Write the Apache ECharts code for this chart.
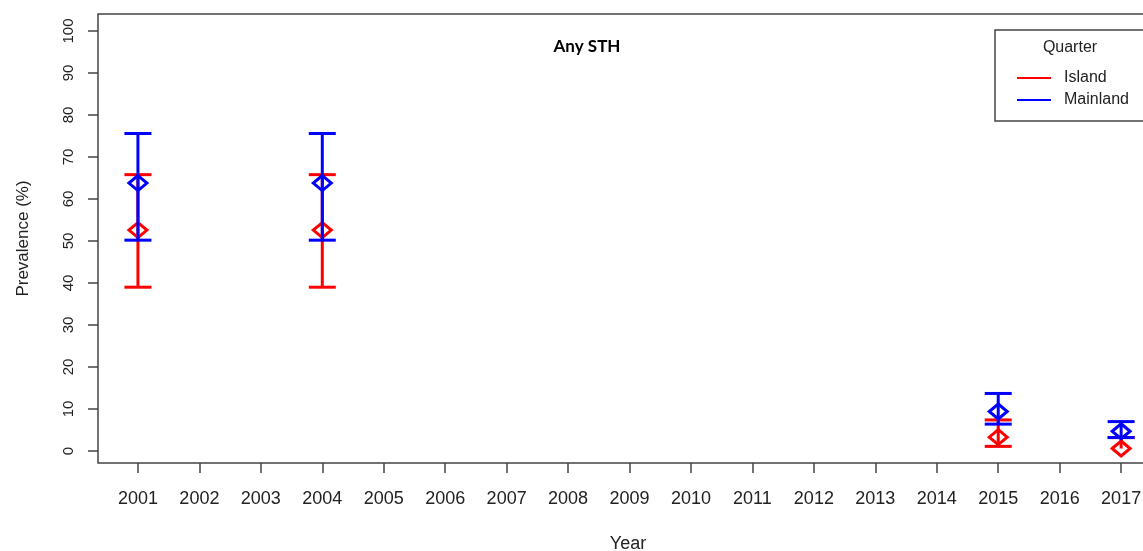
<!DOCTYPE html>
<html><head><meta charset="utf-8">
<script src="https://cdn.jsdelivr.net/npm/echarts@6/dist/echarts.min.js"></script>
<style>html,body{margin:0;padding:0;background:#fff}#c{width:1143px;height:551px}</style>
</head><body><div id="c"></div>
<script>
const years = [2001,2002,2003,2004,2005,2006,2007,2008,2009,2010,2011,2012,2013,2014,2015,2016,2017];
const yTicks = [0,10,20,30,40,50,60,70,80,90,100];
// [year, mean, lower, upper]
const islandYears = [2001, 2004, 2015, 2017];
const islandMean  = [52.6, 52.6, 3.3, 0.6];
const islandLower = [39.0, 39.0, 1.1, 0.6];
const islandUpper = [65.8, 65.8, 7.4, 3.2];
const mainYears = [2001, 2004, 2015, 2017];
const mainMean  = [63.8, 63.8, 9.4, 4.7];
const mainLower = [50.2, 50.2, 6.4, 3.2];
const mainUpper = [75.6, 75.6, 13.7, 7.0];

const build = (ys, m, lo, hi) => ys.map((y,i)=>[y, m[i], lo[i], hi[i]]);

function renderErr(color){
  return function(params, api){
    const x = api.value(0);
    const m = api.value(1), lo = api.value(2), hi = api.value(3);
    const pm = api.coord([x, m]);
    const pl = api.coord([x, lo]);
    const ph = api.coord([x, hi]);
    const cw = 13.5, dw = 9, dh = 7.5;
    const st = {stroke: color, lineWidth: 3, fill: 'none'};
    const ch = [
      {type:'line', shape:{x1:pl[0],y1:pl[1],x2:ph[0],y2:ph[1]}, style:st},
      {type:'line', shape:{x1:ph[0]-cw,y1:ph[1],x2:ph[0]+cw,y2:ph[1]}, style:st}
    ];
    if (lo < m) ch.push({type:'line', shape:{x1:pl[0]-cw,y1:pl[1],x2:pl[0]+cw,y2:pl[1]}, style:st});
    ch.push({type:'polygon', shape:{points:[[pm[0],pm[1]-dh],[pm[0]+dw,pm[1]],[pm[0],pm[1]+dh],[pm[0]-dw,pm[1]]]}, style:{stroke:color,lineWidth:3,fill:'none'}});
    return {type:'group', children:ch};
  };
}

const chart = echarts.init(document.getElementById('c'));
const font = 'Liberation Sans, Arial, sans-serif';
chart.setOption({
  animation:false,
  backgroundColor:'#fff',
  grid:{left:98, top:14, bottom:88, right:-15, show:true, borderColor:'#444', borderWidth:1.5, backgroundColor:'transparent', containLabel:false, outerBoundsMode:'none'},
  xAxis:{type:'value', min:2000.35, max:2017.6,
    name:'Year', nameLocation:'middle', nameGap:72,
    nameTextStyle:{fontFamily:font, fontSize:18, color:'#222'},
    axisLine:{show:false, onZero:false},
    splitLine:{show:false},
    axisTick:{show:true, inside:false, length:10, customValues:years, lineStyle:{color:'#444', width:1.5}},
    axisLabel:{customValues:years, formatter:v=>String(v), fontFamily:font, fontSize:18, color:'#222', margin:27}
  },
  yAxis:{type:'value', min:-2.857, max:104.05,
    name:'Prevalence (%)', nameLocation:'middle', nameGap:66,
    nameTextStyle:{fontFamily:font, fontSize:17, color:'#222'},
    axisLine:{show:false, onZero:false},
    splitLine:{show:false},
    axisTick:{show:true, length:10, customValues:yTicks, lineStyle:{color:'#444', width:1.5}},
    axisLabel:{customValues:yTicks, rotate:90, fontFamily:font, fontSize:15, color:'#222', margin:22}
  },
  legend:{data:['Island','Mainland'], orient:'vertical', left:1012, top:65, itemGap:6,
    icon:'rect', itemWidth:34, itemHeight:2,
    textStyle:{fontFamily:font, fontSize:16, color:'#222', padding:[0,0,0,8]}},
  graphic:[
    {type:'rect', shape:{x:995, y:30, width:170, height:91}, style:{fill:'#fff', stroke:'#444', lineWidth:1.5}, z:-1},
    {type:'text', x:1070, y:48, style:{text:'Quarter', font:'16px Liberation Sans', fill:'#222', align:'center', verticalAlign:'middle'}},
    {type:'text', x:587, y:47, style:{text:'Any STH', font:'bold 17px Lato', fill:'#000', align:'center', verticalAlign:'middle'}}
  ],
  series:[
    {name:'Island', type:'custom', color:'#ff0000', renderItem:renderErr('#ff0000'), data:build(islandYears, islandMean, islandLower, islandUpper), encode:{x:0, y:[1,2,3]}},
    {name:'Mainland', type:'custom', color:'#0000ff', renderItem:renderErr('#0000ff'), data:build(mainYears, mainMean, mainLower, mainUpper), encode:{x:0, y:[1,2,3]}}
  ]
});
</script></body></html>
